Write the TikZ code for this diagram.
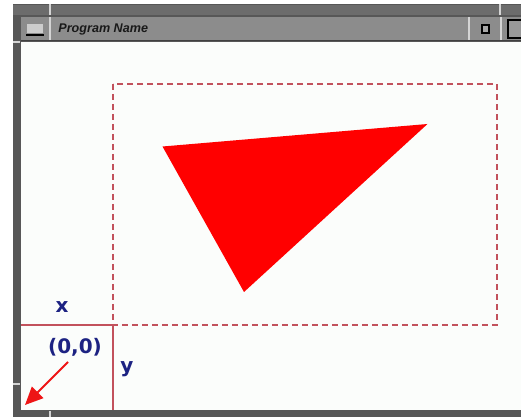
\documentclass[tikz,border=0pt]{standalone}
\usepackage{fontspec}
\newfontfamily\titlefont{Liberation Sans}
\newfontfamily\labelfont{DejaVu Sans}
\usetikzlibrary{arrows.meta}
\begin{document}
\begin{tikzpicture}[x=0.5pt,y=-0.5pt,
  axisline/.style={draw=viewportred,line width=1pt},
  viewport/.style={draw=viewportred,line width=1.3pt,dash pattern=on 3pt off 2pt},
  axislabel/.style={text=labelblue,font=\labelfont\bfseries\fontsize{10}{12}\selectfont,inner sep=0pt},
  tick/.style={draw=tickgray,line width=0.8pt}]
\definecolor{framegray}{HTML}{575757}
\definecolor{bandgray}{HTML}{6C6C6C}
\definecolor{titlegray}{HTML}{8C8C8C}
\definecolor{tickgray}{HTML}{D4D4D4}
\definecolor{clientwhite}{HTML}{FBFDFB}
\definecolor{viewportred}{HTML}{C2525C}
\definecolor{labelblue}{HTML}{1C2282}
\definecolor{arrowred}{HTML}{EE1515}
\useasboundingbox (0,0) rectangle (521,417);
\fill[white] (0,0) rectangle (521,417);
\fill[framegray] (13,4) rectangle (521,417);
\fill[bandgray] (13,5) rectangle (521,15);
\fill[titlegray] (21,17) rectangle (521,40);
\draw[black!75,line width=0.8pt] (21,40.5) -- (521,40.5);
\fill[clientwhite] (21,42) rectangle (521,410);
\fill[black!45] (22,18) rectangle (50,39);
\fill[black!20] (27,24) rectangle (43,33);
\draw[black,line width=0.8pt] (26,35) -- (44,35);
\draw[tick] (50,17) -- (50,40);
\draw[tick] (469,17) -- (469,40);
\draw[tick] (501,17) -- (501,40);
\draw[black,line width=0.8pt,fill=black!35] (482,25) rectangle (489,33);
\draw[black,line width=0.8pt,fill=black!40] (508,20) rectangle (525,38);
\draw[tick] (50,4) -- (50,15);
\draw[tick] (500,4) -- (500,15);
\draw[tick] (13,42) -- (20,42);
\draw[tick] (13,384) -- (20,384);
\draw[tick] (50,411) -- (50,417);
\node[anchor=west,inner sep=0pt,text=black!90,font=\titlefont\bfseries\itshape\fontsize{6.3}{7}\selectfont] (title) at (58,29) {Program Name};
\draw[viewport] (113,84) rectangle (497,325);
\fill[red] (162.5,146.5) -- (427.5,124) -- (244,292) -- cycle;
\coordinate (corner) at (113,325);
\draw[axisline] (21,325) -- (corner) -- (113,410);
\node[axislabel] (xlabel) at (62,307) {x};
\node[axislabel] (origin) at (75,347) {(0,0)};
\node[axislabel] (ylabel) at (127,369) {y};
\coordinate (arrowtail) at (68,362);
\coordinate (arrowtip) at (25,405);
\draw[arrowred,line width=1pt,-{Triangle[length=9pt,width=8pt]}] (arrowtail) -- (arrowtip);
\end{tikzpicture}
\end{document}
